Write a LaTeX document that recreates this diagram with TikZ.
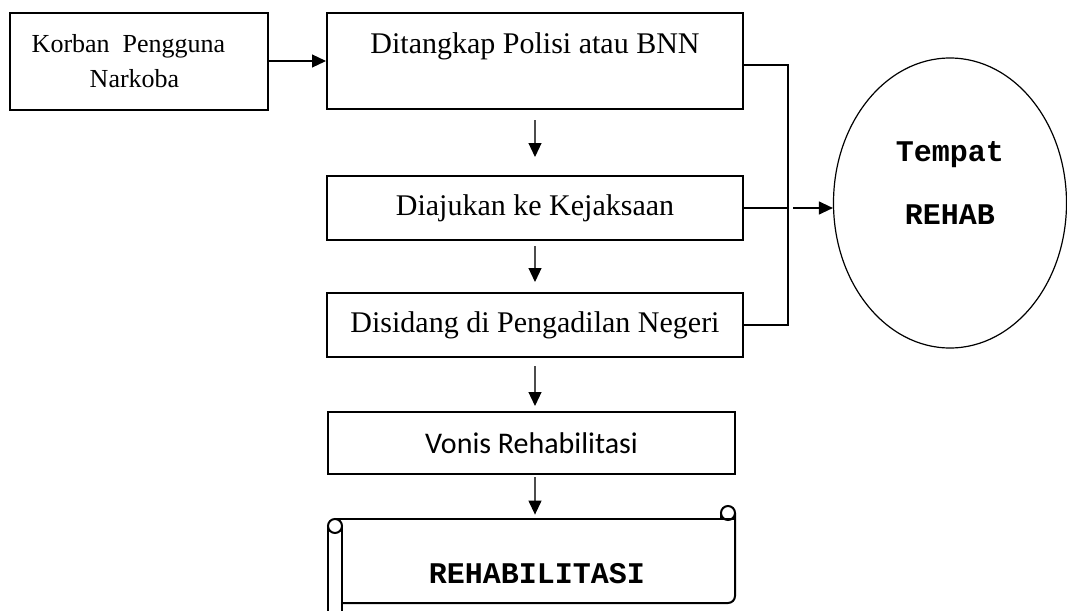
\documentclass[tikz,border=0pt]{standalone}
\usepackage{fontspec}
\setmainfont{Liberation Serif}
\setmonofont{Liberation Mono}
\newfontfamily\carlito{Carlito}
\usetikzlibrary{arrows.meta,shapes.geometric}

\begin{document}
\begin{tikzpicture}[x=0.5pt,y=-0.5pt,
	box/.style={draw,line width=1pt,inner sep=0pt,font=\fontsize{15}{18}\selectfont},
	arr/.style={gray!60!black,line width=0.6pt,-{Triangle[length=7pt,width=6.5pt,color=black]}},
	link/.style={line width=1pt},
	mono/.style={font=\ttfamily\bfseries\fontsize{15}{18}\selectfont}]
	\useasboundingbox (0,0) rectangle (1067,611);

	\node (korban) [box,align=center,minimum width=129pt,minimum height=48.5pt,font=\fontsize{13}{17.5}\selectfont] at (139,61) {Korban\ \ Pengguna\hspace*{10.5pt}\\Narkoba\hspace*{4.5pt}};
	\node (ditangkap) [box,minimum width=208pt,text height=20pt,text depth=28pt] at (535,61) {Ditangkap Polisi atau BNN};
	\node (diajukan) [box,minimum width=208pt,minimum height=32pt] at (535,208) {Diajukan ke Kejaksaan};
	\node (disidang) [box,minimum width=208pt,minimum height=32pt] at (535,325) {Disidang di Pengadilan Negeri};
	\node (vonis) [box,font=\carlito\fontsize{15}{18}\selectfont,minimum width=203.5pt,minimum height=31pt] at (531.5,443) {Vonis Rehabilitasi};
	\node (rehab) [mono,inner sep=0pt,minimum width=196.5pt,text height=32pt,text depth=10pt] at (537,561) {REHABILITASI};

	\node (tempat) [draw,ellipse,line width=0.6pt,inner sep=0pt,minimum width=116.5pt,minimum height=145pt] at (950,203) {};
	\node (tempattxt) [mono,align=center] at (950,183) {Tempat\\[13.5pt]REHAB};

	% scroll shape
	\draw[link] (335,526) circle[radius=3.5pt];
	\draw[link] (328,526) -- (328,611);
	\draw[link] (342,526) -- (342,611);
	\draw[link] (335,519) -- (735,519);
	\draw[link] (728,513) circle[radius=3.5pt];
	\draw[link] (721,513) -- (721,519);
	\draw[link] (735,513) -- (735,596) to[out=-90,in=0] (728,603) -- (342,603);

	\draw[arr,black] (korban) -- (ditangkap);
	\draw[arr,shorten <=5pt,shorten >=9pt] (ditangkap) -- (diajukan);
	\draw[arr,shorten <=2.5pt,shorten >=5pt] (diajukan) -- (disidang);
	\draw[arr,shorten <=4pt,shorten >=2.5pt] (disidang.south) -- (disidang.south |- vonis.north);
	\draw[arr,shorten <=1pt,shorten >=2pt] (disidang.south |- vonis.south) -- (disidang.south |- rehab.north);

	\draw[link] ([yshift=-2pt]ditangkap.east) -- ++(44,0) coordinate (jn) |- (disidang.east);
	\draw[link] (diajukan.east) -- (diajukan.east -| jn) coordinate (jmid);
	\draw[arr,black,shorten <=2.5pt] (jmid) -- (jmid -| tempat.west);
\end{tikzpicture}
\end{document}
